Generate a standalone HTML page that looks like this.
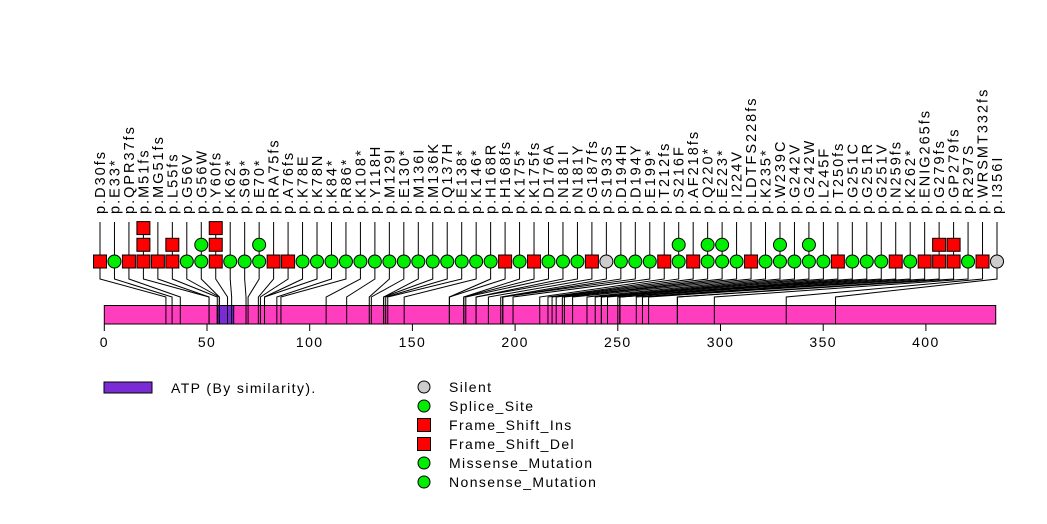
<!DOCTYPE html>
<html><head><meta charset="utf-8"><style>
body{margin:0;background:#fff}
svg{display:block;font-family:"Liberation Sans",Arial,sans-serif}
text{letter-spacing:1.4px}
#labels text{letter-spacing:2px}
</style></head><body>
<svg id="chart" width="1047" height="524" viewBox="0 0 1047 524">
<g id="prot"></g>
<g id="conn"></g>
<g id="marks"></g>
<g id="labels"></g>
<g id="axis"></g>
<g>
<rect x="104" y="382" width="48" height="11" fill="#7b2bd4" stroke="#000"/>
<text x="171" y="393" font-size="14">ATP (By similarity).</text>
<g id="legend2"></g>
</g>
</svg>
<script>
const labels=["D30fs","E33*","QPR37fs","M51fs","MG51fs","L55fs","G56V","G56W","Y60fs","K62*","S69*","E70*","RA75fs","A76fs","K78E","K78N","K84*","R86*","K108*","Y118H","M129I","E130*","M136I","M136K","Q137H","E138*","K146*","H168R","H168fs","K175*","K175fs","D176A","N181I","N181Y","G187fs","S193S","D194H","D194Y","E199*","T212fs","S216F","AF218fs","Q220*","E223*","I224V","LDTFS228fs","K235*","W239C","G242V","G242W","L245F","T250fs","G251C","G251R","G251V","N259fs","K262*","ENIG265fs","G279fs","GP279fs","R297S","WRSMT332fs","I356I"];
const positions=[30,33,37,51,51,55,56,56,60,62,69,70,75,76,78,78,84,86,108,118,129,130,136,136,137,138,146,168,168,175,175,176,181,181,187,193,194,194,199,212,216,218,220,223,224,228,235,239,242,242,245,250,251,251,251,259,262,265,279,279,297,332,356];
const counts=[1,1,1,3,1,2,1,2,3,1,1,2,1,1,1,1,1,1,1,1,1,1,1,1,1,1,1,1,1,1,1,1,1,1,1,1,1,1,1,1,2,1,2,2,1,1,1,2,1,2,1,1,1,1,1,1,1,1,2,2,1,1,1];
const types=["s","c","s","s","s","s","c","c","s","c","c","c","s","s","c","c","c","c","c","c","c","c","c","c","c","c","c","c","s","c","s","c","c","c","s","g","c","c","c","s","c","s","c","c","c","s","c","c","c","c","c","s","c","c","c","s","c","s","s","s","c","s","g"];
const ticks=[0,50,100,150,200,250,300,350,400];
const proteinLength=434;
const domainStart=55, domainEnd=63;
const legendNames=["Silent","Splice_Site","Frame_Shift_Ins","Frame_Shift_Del","Missense_Mutation","Nonsense_Mutation"];
const legendTypes=["g","c","s","s","c","c"];

const NS="http://www.w3.org/2000/svg";
const x=v=>104.3+v*2.054;
const col=i=>100+i*(897/(labels.length-1));
const colors={s:"#ff0000",c:"#00ee00",g:"#cccccc"};
function mk(t,a,p){const e=document.createElementNS(NS,t);for(const k in a)e.setAttribute(k,a[k]);p.appendChild(e);return e;}
function marker(t,cx,cy,p){
  if(t==="s")return mk("rect",{x:cx-6.5,y:cy-6.5,width:13,height:13,fill:colors.s,stroke:"#000"},p);
  return mk("circle",{cx:cx,cy:cy,r:6.5,fill:colors[t],stroke:"#000"},p);
}
const conn=document.getElementById('conn'),prot=document.getElementById('prot'),marks=document.getElementById('marks'),lab=document.getElementById('labels'),axis=document.getElementById('axis');
const pb=mk("rect",{x:x(0),y:305.5,width:x(proteinLength)-x(0),height:18.5,fill:"#ff3dbf",stroke:"#000"},prot);


const dm=mk("rect",{x:x(domainStart),y:305.5,width:x(domainEnd)-x(domainStart),height:18.5,fill:"#7b2bd4",stroke:"#000"},prot);


labels.forEach((l,i)=>{
  const cx=col(i), px=x(positions[i]);
  const pl=mk("polyline",{points:`${cx},222 ${cx},279 ${px},297 ${px},324`,fill:"none",stroke:"#000","stroke-width":1},conn);
  
  
  for(let k=0;k<counts[i];k++){
    const m=marker(types[i],cx,261.5-k*16.7,marks);
    
    
  }
  const t=mk("text",{x:0,y:0,"font-size":14.5,transform:`translate(${cx+5},214) rotate(-90)`},lab);
  t.textContent="p."+l;
  
  
});
ticks.forEach(v=>{
  const ln=mk("line",{x1:x(v),x2:x(v),y1:324,y2:331,stroke:"#000"},axis);
  
  
  const t=mk("text",{x:x(v),y:347,"font-size":14,"text-anchor":"middle"},axis);
  t.textContent=v;
  
  
});
const lg=document.getElementById('legend2');
legendNames.forEach((n,i)=>{
  const cy=387+i*19;
  const m=marker(legendTypes[i],424,cy,lg);
  m.setAttribute('r',6);
  
  
  const t=mk("text",{x:449,y:cy+5,"font-size":14},lg);
  t.textContent=n;
  
  
});
</script>
</body></html>
